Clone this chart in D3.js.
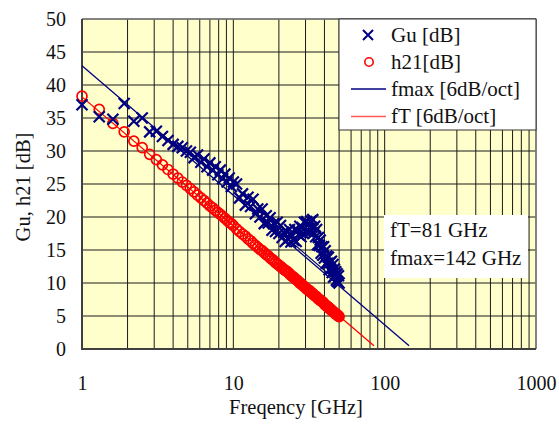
<!DOCTYPE html>
<html>
<head>
<meta charset="utf-8">
<script src="https://cdn.jsdelivr.net/npm/d3@7"></script>
<style>
  body { margin: 0; background: #fff; }
  svg { font-family: "Liberation Serif", "Times New Roman", serif; }
  svg text { fill: #111; }
</style>
</head>
<body>
<svg></svg>
<script>
const width = 559, height = 424;
const margin = { top: 19, right: 23, bottom: 75, left: 82 };
const innerWidth = width - margin.left - margin.right;
const innerHeight = height - margin.top - margin.bottom;

// measured frequencies [GHz]
const freq = [1.0, 1.3, 1.6, 1.9, 2.2, 2.5, 2.8, 3.1, 3.4, 3.7, 4.0, 4.3, 4.6, 4.9, 5.2, 5.5,
  5.8, 6.1, 6.4, 6.7, 7.0, 7.3, 7.6, 7.9, 8.2, 8.5, 8.8, 9.1, 9.4, 9.7, 10.0,
  10.5, 11, 11.5, 12, 12.5, 13, 13.5, 14, 14.5, 15, 15.5, 16, 16.5, 17, 17.5, 18, 18.5, 19, 19.5, 20,
  20.5, 21, 21.5, 22, 22.5, 23, 23.5, 24, 24.5, 25, 25.5, 26, 26.5, 27, 27.5, 28, 28.5, 29, 29.5, 30,
  30.5, 31, 31.5, 32, 32.5, 33, 33.5, 34, 34.5, 35, 35.5, 36, 36.5, 37, 37.5, 38, 38.5, 39, 39.5, 40,
  40.5, 41, 41.5, 42, 42.5, 43, 43.5, 44, 44.5, 45, 45.5, 46, 46.5, 47, 47.5, 48, 48.5, 49, 49.5, 50];
const gu = [37.0, 35.2, 34.8, 37.2, 34.5, 35.0, 32.9, 33.0, 32.2, 31.6, 31.0, 30.7, 30.5, 30.0, 29.8, 29.0,
  29.4, 28.3, 28.8, 27.6, 28.2, 27.1, 27.6, 26.4, 27.1, 25.8, 26.5, 25.3, 25.9, 24.6, 25.3,
  25.0, 22.9, 23.5, 21.8, 23.0, 21.6, 22.7, 20.5, 21.2, 20.0, 21.2, 19.0, 20.2, 19.1, 19.9, 18.0, 19.0, 17.8, 19.2, 17.5,
  18.7, 16.9, 17.7, 16.3, 17.8, 16.7, 18.1, 16.2, 17.2, 16.5, 18.1, 16.3, 18.0, 17.3, 18.6, 17.0, 18.4, 17.5, 19.2, 17.8,
  19.3, 17.8, 18.9, 17.7, 19.4, 18.4, 19.6, 17.6, 18.6, 17.0, 18.1, 15.8, 16.9, 15.7, 16.5, 14.5, 15.5, 14.2, 15.5, 13.8,
  14.9, 13.0, 14.1, 13.0, 13.9, 12.0, 13.1, 12.1, 13.3, 11.6, 12.8, 10.9, 12.1, 11.1, 11.7, 10.4, 11.4, 10.2, 11.1, 10.0];
const h21 = [38.3, 36.3, 34.2, 32.9, 31.5, 30.5, 29.5, 28.7, 27.9, 27.2, 26.5, 25.9, 25.3, 24.8, 24.3, 23.8,
  23.3, 22.9, 22.5, 22.1, 21.7, 21.4, 21.0, 20.7, 20.4, 20.1, 19.8, 19.5, 19.2, 19.0, 18.7,
  18.2, 17.8, 17.4, 17.1, 16.7, 16.4, 16.0, 15.7, 15.4, 15.1, 14.9, 14.6, 14.3, 14.1, 13.8, 13.6, 13.4, 13.1, 12.9, 12.7,
  12.5, 12.3, 12.1, 11.9, 11.8, 11.6, 11.4, 11.2, 11.0, 10.9, 10.7, 10.5, 10.4, 10.2, 10.0, 9.9, 9.7, 9.6, 9.4, 9.3,
  9.1, 9.0, 8.9, 8.8, 8.6, 8.5, 8.4, 8.2, 8.1, 8.0, 7.9, 7.7, 7.6, 7.5, 7.4, 7.3, 7.2, 7.1, 7.0, 6.8,
  6.7, 6.6, 6.5, 6.4, 6.3, 6.2, 6.1, 6.0, 5.9, 5.8, 5.7, 5.6, 5.5, 5.4, 5.3, 5.3, 5.2, 5.1, 5.0, 4.9];

// 6dB/oct extrapolation lines [freq, dB]
const fmaxLine = [[1, 42.9], [145, 0.5]];
const ftLine = [[1, 38.2], [85, 0.5]];
const fmaxFit = [[15, 20.3], [50, 10.0]];

const xTicks = [1, 10, 100, 1000];
const yTicks = [0, 5, 10, 15, 20, 25, 30, 35, 40, 45, 50];
const legendLabels = ["Gu [dB]", "h21[dB]", "fmax [6dB/oct]", "fT [6dB/oct]"];
const noteLines = ["fT=81 GHz", "fmax=142 GHz"];

const navy = "#000080", red = "#ff0000";

const svg = d3.select("svg").attr("width", width).attr("height", height);
const g = svg.append("g").attr("transform", `translate(${margin.left},${margin.top})`);

const x = d3.scaleLog().domain([1, 1000]).range([0, innerWidth]);
const y = d3.scaleLinear().domain([0, 50]).range([innerHeight, 0]);

g.append("rect")
  .attr("width", innerWidth).attr("height", innerHeight)
  .attr("fill", "#ffffcc");

// grid
g.append("g").selectAll("line")
  .data(x.ticks())
  .enter().append("line")
  .attr("x1", d => x(d)).attr("x2", d => x(d))
  .attr("y1", 0).attr("y2", innerHeight)
  .attr("stroke", "#1a1a1a").attr("stroke-width", 1);

g.append("g").selectAll("line")
  .data(yTicks)
  .enter().append("line")
  .attr("x1", 0).attr("x2", innerWidth)
  .attr("y1", d => y(d)).attr("y2", d => y(d))
  .attr("stroke", "#1a1a1a").attr("stroke-width", 1);

// frame
g.append("line").attr("x1", 0).attr("x2", innerWidth).attr("y1", 0).attr("y2", 0)
  .attr("stroke", "#808080").attr("stroke-width", 1.5);
g.append("line").attr("x1", innerWidth).attr("x2", innerWidth).attr("y1", 0).attr("y2", innerHeight)
  .attr("stroke", "#808080").attr("stroke-width", 1.5);
g.append("line").attr("x1", 0).attr("x2", 0).attr("y1", 0).attr("y2", innerHeight + 1)
  .attr("stroke", "#404040").attr("stroke-width", 2);
g.append("line").attr("x1", -1).attr("x2", innerWidth).attr("y1", innerHeight).attr("y2", innerHeight)
  .attr("stroke", "#404040").attr("stroke-width", 2);

// axes labels
const xAxis = d3.axisBottom(x).tickValues(xTicks).tickSize(0).tickPadding(27).tickFormat(d3.format("d"));
const yAxis = d3.axisLeft(y).tickValues(yTicks).tickSize(0).tickPadding(16);

const gx = g.append("g").attr("transform", `translate(0,${innerHeight})`).call(xAxis);
const gy = g.append("g").call(yAxis);
[gx, gy].forEach(a => {
  a.attr("font-family", null).attr("font-size", null);
  a.select(".domain").remove();
  a.selectAll("text").style("font-size", "20px").attr("fill", "#111");
});

svg.append("text")
  .attr("x", 296).attr("y", 414)
  .attr("text-anchor", "middle")
  .style("font-size", "20.5px")
  .text("Freqency [GHz]");

svg.append("text")
  .attr("transform", "translate(30,187) rotate(-90)")
  .attr("text-anchor", "middle")
  .style("font-size", "20.5px")
  .text("Gu, h21 [dB]");

// lines
const line = d3.line().x(d => x(d[0])).y(d => y(d[1]));
g.append("path").datum(fmaxLine).attr("d", line)
  .attr("fill", "none").attr("stroke", navy).attr("stroke-width", 1.3);
g.append("path").datum(fmaxFit).attr("d", line)
  .attr("fill", "none").attr("stroke", navy).attr("stroke-width", 1.1);
g.append("path").datum(ftLine).attr("d", line)
  .attr("fill", "none").attr("stroke", red).attr("stroke-width", 1.3);

// markers
const cross = "M-5.5,-5.5L5.5,5.5M-5.5,5.5L5.5,-5.5";
const guData = freq.map((f, i) => [f, gu[i]]);
const h21Data = freq.map((f, i) => [f, h21[i]]);

g.append("g").selectAll("circle")
  .data(h21Data)
  .enter().append("circle")
  .attr("cx", d => x(d[0])).attr("cy", d => y(d[1]))
  .attr("r", 5)
  .attr("fill", "none").attr("stroke", red).attr("stroke-width", 1.7);

g.append("g").selectAll("path")
  .data(guData)
  .enter().append("path")
  .attr("transform", d => `translate(${x(d[0])},${y(d[1])})`)
  .attr("d", cross)
  .attr("fill", "none").attr("stroke", navy).attr("stroke-width", 2.2);

// legend
const legend = svg.append("g").attr("transform", "translate(339,19)");
legend.append("rect")
  .attr("width", 197).attr("height", 111)
  .attr("fill", "#fff").attr("stroke", "#333").attr("stroke-width", 1);

legend.selectAll("text")
  .data(legendLabels)
  .enter().append("text")
  .attr("x", 52)
  .attr("y", (d, i) => 23 + i * 27)
  .style("font-size", "21px")
  .text(d => d);

legend.append("path").attr("transform", "translate(29,16)")
  .attr("d", "M-5,-5L5,5M-5,5L5,-5")
  .attr("stroke", navy).attr("stroke-width", 2);
legend.append("circle").attr("cx", 30).attr("cy", 43).attr("r", 4.2)
  .attr("fill", "none").attr("stroke", red).attr("stroke-width", 1.6);
legend.append("line").attr("x1", 12).attr("x2", 47).attr("y1", 70).attr("y2", 70)
  .attr("stroke", navy).attr("stroke-width", 1.3);
legend.append("line").attr("x1", 12).attr("x2", 47).attr("y1", 97.5).attr("y2", 97.5)
  .attr("stroke", "#ff5a5a").attr("stroke-width", 1.5);

// fT / fmax note
const note = svg.append("g").attr("transform", "translate(384,215)");
note.append("rect").attr("width", 144).attr("height", 63).attr("fill", "#fff");
note.selectAll("text")
  .data(noteLines)
  .enter().append("text")
  .attr("x", 6)
  .attr("y", (d, i) => 22 + i * 28)
  .style("font-size", "21px")
  .text(d => d);
</script>
</body>
</html>
